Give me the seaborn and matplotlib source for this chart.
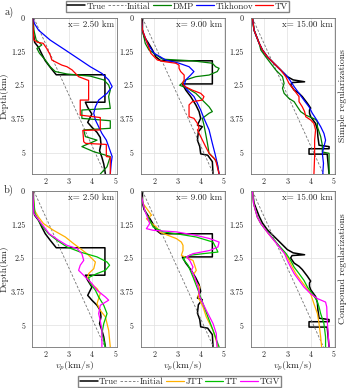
import matplotlib
matplotlib.use("Agg")
from matplotlib import pyplot as plt
import seaborn as sns

# depth (km) / vp (km/s) profiles
initial_d = [0.0, 5.8]
initial_v = [1.5, 4.55]

# ---- x = 2.50 km
true250_d = [0, 0.53, 0.90, 1.09, 1.34, 1.59, 1.83, 2.11, 2.11, 3.13, 3.13, 3.32, 3.57, 3.69, 3.88, 4.06, 4.25, 4.44, 4.68, 4.93, 5.18, 5.43, 5.8]
true250_v = [1.48, 1.48, 1.53, 1.70, 1.84, 1.99, 2.20, 2.46, 4.55, 4.55, 3.71, 3.81, 3.99, 3.92, 3.81, 3.99, 4.21, 4.35, 4.38, 4.32, 4.42, 4.50, 4.57]
dmp250_d = [0, 0.45, 0.82, 1.00, 1.13, 1.31, 1.56, 1.81, 1.99, 2.08, 2.16, 2.30, 2.49, 2.68, 2.92, 3.36, 3.42, 3.73, 3.82, 4.10, 4.16, 4.41, 4.54, 4.78, 4.97, 5.15, 5.53, 5.80]
dmp250_v = [1.45, 1.50, 1.60, 1.84, 1.63, 1.74, 1.99, 2.20, 2.42, 2.92, 3.92, 4.50, 4.71, 4.78, 4.71, 4.78, 3.56, 3.56, 4.78, 4.78, 3.64, 3.71, 4.21, 3.56, 4.07, 4.78, 4.64, 4.35]
tik250_d = [0, 0.2, 0.45, 0.82, 1.19, 1.56, 1.81, 2.06, 2.30, 2.55, 2.80, 3.05, 3.30, 3.54, 3.79, 4.04, 4.29, 4.54, 4.78, 5.15, 5.40, 5.80]
tik250_v = [1.45, 1.52, 1.70, 2.20, 2.85, 3.49, 3.92, 4.42, 4.71, 4.86, 4.64, 4.28, 4.14, 4.07, 4.14, 4.28, 4.42, 4.61, 4.71, 4.86, 4.82, 4.78]
tv250_d = [0, 0.45, 0.82, 0.90, 0.94, 1.13, 1.37, 1.56, 1.69, 1.75, 1.81, 1.93, 2.18, 2.30, 2.32, 3.05, 3.05, 3.61, 3.70, 4.16, 4.18, 4.60, 4.66, 4.70, 5.15, 5.17, 5.80]
tv250_v = [1.45, 1.47, 1.50, 1.65, 1.90, 2.05, 2.20, 2.27, 2.56, 2.70, 2.92, 3.14, 3.42, 3.78, 3.85, 3.85, 3.49, 3.49, 4.35, 4.35, 3.60, 3.64, 3.72, 4.61, 4.61, 4.78, 4.78]
jtt250_d = [0, 0.72, 0.97, 1.21, 1.46, 1.71, 1.96, 2.14, 2.33, 2.45, 2.64, 2.89, 3.07, 3.26, 3.44, 3.63, 3.82, 4.00, 4.19, 4.44, 4.68, 5.18, 5.80]
jtt250_v = [1.45, 1.53, 1.70, 1.91, 2.34, 2.85, 3.21, 3.49, 3.78, 3.92, 4.14, 4.07, 3.85, 3.81, 3.95, 4.21, 4.35, 4.28, 4.21, 4.35, 4.57, 4.71, 4.78]
tt250_d = [0, 0.84, 1.09, 1.34, 1.59, 1.83, 2.08, 2.27, 2.45, 2.64, 2.76, 2.95, 3.07, 3.22, 3.44, 3.69, 3.94, 4.25, 4.56, 4.93, 5.30, 5.55, 5.80]
tt250_v = [1.45, 1.55, 1.70, 1.89, 2.13, 2.49, 2.92, 3.49, 4.21, 4.64, 4.75, 4.57, 4.21, 3.85, 3.92, 4.14, 4.28, 4.50, 4.64, 4.50, 4.42, 4.50, 4.57]
tgv250_d = [0, 0.84, 1.09, 1.34, 1.59, 1.83, 2.02, 2.14, 2.33, 2.58, 2.76, 2.95, 3.07, 3.26, 3.44, 3.69, 3.94, 4.06, 4.25, 4.56, 4.81, 5.18, 5.80]
tgv250_v = [1.45, 1.50, 1.72, 1.94, 2.16, 2.56, 2.92, 3.35, 3.56, 3.64, 3.49, 3.42, 3.56, 3.78, 3.99, 4.21, 4.57, 4.71, 4.35, 4.28, 4.35, 4.42, 4.42]

# ---- x = 9.00 km
true900_d = [0, 0.45, 0.69, 0.94, 1.19, 1.44, 1.59, 1.59, 2.45, 2.45, 2.68, 2.92, 3.23, 3.48, 3.73, 3.98, 4.04, 4.23, 4.54, 4.78, 5.05, 5.10, 5.34, 5.8]
true900_v = [1.5, 1.5, 1.57, 1.76, 1.93, 2.07, 2.29, 4.5, 4.5, 3.21, 3.36, 3.57, 3.79, 3.93, 4.0, 3.86, 4.07, 3.90, 3.86, 3.96, 4.0, 4.30, 4.5, 4.53]
dmp900_d = [0, 0.45, 0.94, 1.19, 1.53, 1.59, 1.68, 1.81, 1.87, 1.99, 2.12, 2.18, 2.30, 2.50, 2.61, 2.80, 2.92, 3.11, 3.30, 3.48, 3.54, 3.73, 3.98, 4.29, 4.66, 5.03, 5.21, 5.40, 5.80]
dmp900_v = [1.45, 1.5, 1.62, 1.78, 2.36, 3.64, 4.5, 4.64, 4.79, 4.71, 4.36, 3.79, 3.36, 3.10, 3.43, 3.79, 3.93, 4.14, 4.36, 4.5, 4.36, 4.07, 4.14, 4.21, 4.29, 4.36, 4.57, 4.71, 4.79]
tik900_d = [0, 0.45, 0.94, 1.31, 1.56, 1.68, 1.81, 1.99, 2.12, 2.30, 2.49, 2.68, 2.92, 3.17, 3.42, 3.73, 4.16, 4.66, 5.03, 5.40, 5.80]
tik900_v = [1.45, 1.5, 1.71, 2.0, 2.5, 3.07, 3.5, 3.71, 3.57, 3.36, 3.29, 3.43, 3.71, 3.86, 4.0, 4.14, 4.36, 4.5, 4.61, 4.71, 4.79]
tv900_d = [0, 0.45, 0.94, 1.31, 1.56, 1.62, 1.68, 1.75, 1.87, 1.99, 2.12, 2.30, 2.43, 2.55, 2.68, 2.80, 2.92, 3.05, 3.11, 3.23, 3.67, 3.73, 3.92, 4.10, 4.16, 4.41, 4.78, 5.03, 5.28, 5.80]
tv900_v = [1.45, 1.5, 1.71, 1.86, 2.14, 2.43, 2.93, 3.07, 3.07, 3.14, 3.29, 3.29, 3.21, 3.33, 3.64, 4.0, 4.14, 4.07, 3.64, 3.5, 3.5, 3.71, 3.86, 3.93, 3.86, 4.0, 4.21, 4.36, 4.64, 4.79]
jtt900_d = [0, 0.47, 0.72, 0.90, 1.03, 1.15, 1.34, 1.52, 1.65, 1.77, 1.90, 2.02, 2.21, 2.39, 2.45, 2.58, 2.76, 2.95, 3.13, 3.32, 3.57, 3.94, 4.31, 4.68, 5.18, 5.49, 5.80]
jtt900_v = [1.4, 1.53, 1.74, 1.89, 1.67, 1.81, 2.1, 2.24, 2.6, 2.96, 3.17, 3.24, 3.24, 3.17, 3.31, 3.67, 3.74, 3.81, 3.67, 3.74, 3.96, 3.89, 4.1, 4.24, 4.53, 4.64, 4.74]
tt900_d = [0, 0.72, 1.09, 1.34, 1.52, 1.59, 1.71, 1.90, 2.14, 2.27, 2.33, 2.39, 2.52, 2.76, 3.20, 3.69, 4.19, 4.68, 5.18, 5.80]
tt900_v = [1.4, 1.6, 1.81, 1.96, 2.39, 2.96, 3.81, 4.53, 4.67, 4.74, 4.1, 3.53, 3.24, 3.46, 3.67, 3.89, 4.1, 4.31, 4.53, 4.79]
tgv900_d = [0, 0.72, 1.21, 1.40, 1.46, 1.52, 1.65, 1.77, 1.90, 2.08, 2.21, 2.33, 2.45, 2.58, 2.83, 2.95, 3.20, 3.57, 3.94, 4.44, 4.93, 5.30, 5.80]
tgv900_v = [1.4, 1.6, 1.81, 1.67, 1.96, 2.96, 3.81, 4.39, 4.79, 4.74, 4.39, 3.67, 3.39, 3.53, 3.67, 3.6, 3.74, 3.89, 3.96, 4.24, 4.53, 4.67, 4.7]

# ---- x = 15.00 km
true1500_d = [0, 0.45, 0.94, 1.19, 1.44, 1.69, 1.93, 2.18, 2.30, 2.37, 2.40, 2.49, 2.68, 2.80, 2.92, 3.17, 3.35, 3.42, 3.54, 3.67, 3.92, 4.16, 4.41, 4.73, 4.78, 4.86, 4.86, 5.06, 5.06, 5.80]
true1500_v = [1.5, 1.57, 1.79, 1.93, 2.14, 2.43, 2.71, 3.0, 3.25, 3.74, 3.2, 3.14, 3.29, 3.5, 3.64, 3.86, 4.0, 3.95, 3.95, 4.0, 4.21, 4.29, 4.31, 4.36, 4.79, 4.79, 3.93, 3.93, 4.71, 4.79]
dmp1500_d = [0, 0.45, 0.94, 1.19, 1.44, 1.69, 1.93, 2.18, 2.43, 2.61, 2.80, 2.99, 3.11, 3.30, 3.48, 3.61, 3.69, 3.77, 3.86, 4.04, 4.41, 4.73, 4.98, 5.03, 5.80]
dmp1500_v = [1.5, 1.57, 1.79, 1.86, 2.07, 2.29, 2.5, 2.79, 2.86, 2.79, 2.86, 3.07, 3.29, 3.43, 3.57, 3.79, 4.0, 4.21, 4.29, 4.29, 4.43, 4.5, 4.5, 4.79, 4.79]
tik1500_d = [0, 0.45, 0.94, 1.19, 1.44, 1.69, 1.93, 2.18, 2.30, 2.55, 2.80, 3.05, 3.30, 3.54, 3.79, 4.04, 4.29, 4.54, 4.78, 5.03, 5.40, 5.80]
tik1500_v = [1.5, 1.57, 1.79, 1.93, 2.14, 2.43, 2.71, 3.0, 3.1, 3.29, 3.5, 3.71, 3.93, 4.07, 4.26, 4.43, 4.57, 4.64, 4.57, 4.5, 4.55, 4.52]
tv1500_d = [0, 0.45, 0.94, 1.19, 1.44, 1.69, 1.93, 2.18, 2.43, 2.68, 2.92, 3.11, 3.30, 3.48, 3.67, 3.79, 3.92, 4.16, 4.54, 5.15, 5.80]
tv1500_v = [1.5, 1.57, 1.79, 1.93, 2.14, 2.43, 2.71, 2.93, 3.07, 3.29, 3.5, 3.5, 3.64, 3.74, 3.79, 4.0, 4.14, 4.21, 4.17, 4.17, 4.14]
jtt1500_d = [0, 0.47, 0.97, 1.21, 1.59, 1.96, 2.33, 2.58, 2.83, 3.07, 3.32, 3.57, 3.82, 4.19, 4.56, 4.93, 5.43, 5.80]
jtt1500_v = [1.5, 1.55, 1.71, 1.86, 2.19, 2.55, 2.9, 3.07, 3.21, 3.36, 3.57, 3.79, 4.0, 4.14, 4.29, 4.36, 4.43, 4.47]
tt1500_d = [0, 0.47, 0.97, 1.21, 1.59, 1.96, 2.33, 2.58, 2.83, 3.07, 3.32, 3.57, 3.82, 4.06, 4.31, 4.56, 4.93, 5.43, 5.80]
tt1500_v = [1.5, 1.55, 1.71, 1.86, 2.21, 2.57, 2.95, 3.14, 3.29, 3.5, 3.71, 3.86, 4.07, 4.26, 4.36, 4.43, 4.57, 4.64, 4.64]
tgv1500_d = [0, 0.47, 0.97, 1.21, 1.59, 1.96, 2.33, 2.58, 2.83, 3.07, 3.32, 3.57, 3.82, 4.00, 4.13, 4.31, 4.81, 5.80]
tgv1500_v = [1.5, 1.55, 1.71, 1.86, 2.19, 2.54, 2.88, 3.0, 3.14, 3.29, 3.5, 3.71, 4.0, 4.29, 4.64, 4.69, 4.71, 4.79]

positions = ["x= 2.50 km", "x= 9.00 km", "x= 15.00 km"]
depth_ticks = [0, 1.25, 2.5, 3.75, 5]
depth_labels = ["0", "1.25", "2.5", "3.75", "5"]
vel_ticks = [2, 3, 4, 5]
vel_labels = ["2", "3", "4", "5"]

simple_names = ["DMP", "Tikhonov", "TV"]
compound_names = ["JTT", "TT", "TGV"]
colors = {"True": "black", "Initial": "0.45", "DMP": "#008000", "Tikhonov": "#0000ff",
          "TV": "#ff0000", "JTT": "#ffb000", "TT": "#00c000", "TGV": "#ff00ff"}

true_profiles = [(true250_v, true250_d), (true900_v, true900_d), (true1500_v, true1500_d)]
simple_rows = [
    [(dmp250_v, dmp250_d), (tik250_v, tik250_d), (tv250_v, tv250_d)],
    [(dmp900_v, dmp900_d), (tik900_v, tik900_d), (tv900_v, tv900_d)],
    [(dmp1500_v, dmp1500_d), (tik1500_v, tik1500_d), (tv1500_v, tv1500_d)],
]
compound_rows = [
    [(jtt250_v, jtt250_d), (tt250_v, tt250_d), (tgv250_v, tgv250_d)],
    [(jtt900_v, jtt900_d), (tt900_v, tt900_d), (tgv900_v, tgv900_d)],
    [(jtt1500_v, jtt1500_d), (tt1500_v, tt1500_d), (tgv1500_v, tgv1500_d)],
]

sns.set_theme(style="whitegrid")
plt.rcParams.update({
    "font.family": ["cmr10", "DejaVu Serif"],
    "mathtext.fontset": "cm",
    "axes.formatter.use_mathtext": False,
    "axes.edgecolor": "0.45",
    "axes.linewidth": 0.6,
    "grid.color": "0.88",
    "grid.linewidth": 0.5,
    "xtick.labelsize": 5.8,
    "ytick.labelsize": 5.8,
    "xtick.major.size": 0,
    "ytick.major.size": 0,
    "xtick.major.pad": 2.5,
    "ytick.major.pad": 5,
})

fig = plt.figure(figsize=(3.48, 3.88), dpi=100)
lefts = [0.092, 0.404, 0.720]
bottoms = [0.5515, 0.1057]
w, h = 0.243, 0.402


def line(ax, v, d, name, lw=0.9, ls="-"):
    sns.lineplot(x=v, y=d, sort=False, estimator=None, ax=ax, color=colors[name],
                 lw=lw, linestyle=ls, label=name, legend=False)


for r, (names, rows) in enumerate([(simple_names, simple_rows), (compound_names, compound_rows)]):
    for c in range(3):
        ax = fig.add_axes([lefts[c], bottoms[r], w, h])
        tv, td = true_profiles[c]
        line(ax, tv, td, "True", lw=1.1)
        line(ax, initial_v, initial_d, "Initial", lw=0.6, ls=(0, (3, 2)))
        for name, (v, d) in zip(names, rows[c]):
            line(ax, v, d, name)
        ax.set_xlim(1.42, 5.05)
        ax.set_ylim(5.8, 0)
        ax.set_xticks(vel_ticks)
        ax.set_xticklabels(vel_labels)
        ax.set_yticks(depth_ticks)
        ax.set_yticklabels(depth_labels)
        ax.set_xlabel("$v_p$(km/s)" if r == 1 else "", fontsize=7, va="center")
        ax.xaxis.set_label_coords(0.5, -0.125)
        ax.set_ylabel("Depth(km)" if c == 0 else "", fontsize=7)
        ax.yaxis.set_label_coords(-0.275, 0.5)
        ax.text(0.97, 0.985, positions[c], transform=ax.transAxes, ha="right", va="top", fontsize=6.5)
        if ax.get_legend():
            ax.get_legend().remove()
        if c == 0:
            handles, labels = ax.get_legend_handles_labels()
            leg_anchor = (0.51, 0.998) if r == 0 else (0.516, 0.002)
            leg_loc = "upper center" if r == 0 else "lower center"
            fig.legend(handles, labels, loc=leg_loc, bbox_to_anchor=leg_anchor, ncol=5,
                       fontsize=6.5, frameon=True, fancybox=False, edgecolor="0.4",
                       handlelength=2.0, handletextpad=0.15, columnspacing=0.25,
                       borderpad=0.15, borderaxespad=0)

fig.text(0.012, 0.968, "a)", fontsize=7.5, va="center")
fig.text(0.012, 0.51, "b)", fontsize=7.5, va="center")
fig.text(0.986, 0.753, "Simple regularizations", rotation=90, ha="center", va="center", fontsize=7)
fig.text(0.986, 0.307, "Compound regularizations", rotation=90, ha="center", va="center", fontsize=7)

fig.savefig("out.png", dpi=100)
plt.close(fig)
